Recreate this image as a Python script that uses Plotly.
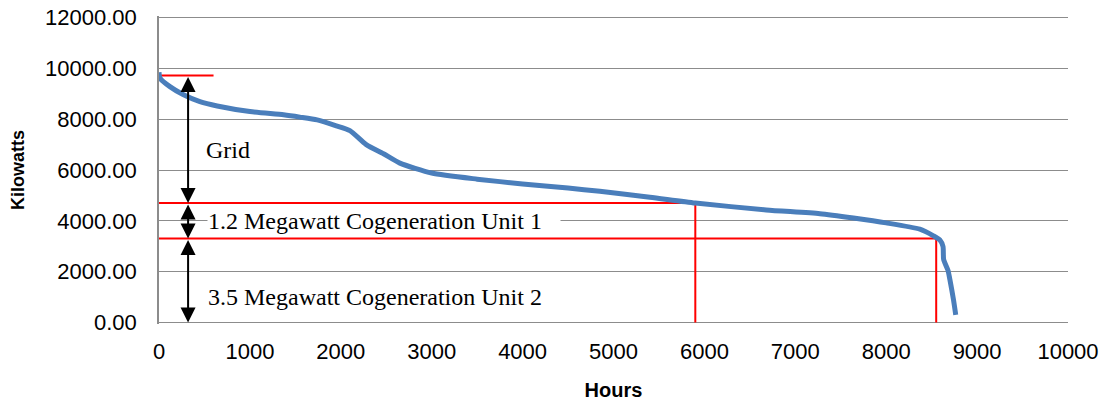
import plotly.graph_objects as go

# load duration curve (hours sorted by demand)
hours = [0, 10, 120, 270, 450, 640, 1000, 1370, 1550, 1740, 1950, 2100, 2280, 2470, 2650,
         3000, 3500, 4000, 4500, 4850, 5400, 5900, 6680, 7270, 7640, 8000, 8370, 8520,
         8590, 8625, 8632, 8680, 8700, 8740, 8765]
kw = [9850, 9620, 9280, 8960, 8690, 8520, 8300, 8170, 8080, 7970, 7740, 7550, 7000, 6640, 6270,
      5880, 5640, 5450, 5290, 5160, 4930, 4700, 4430, 4280, 4110, 3920, 3670, 3410,
      3250, 2990, 2480, 2050, 1700, 900, 300]

# red level lines: (level kW, hour where it meets the curve)
levels = [9720, 4700, 3300]
level_ends = [600, 5900, 8550]

arrow_x = 320
segments = [(9720, 4700), (4700, 3300), (3300, 0)]

labels = ["Grid", "1.2 Megawatt Cogeneration Unit 1", "3.5 Megawatt Cogeneration Unit 2"]
label_x = [506, 525, 525]
label_y = [6800, 3990, 1000]

fig = go.Figure()

for lv, he in zip(levels, level_ends):
    if lv == levels[0]:
        xs, ys = [0, he], [lv, lv]
    else:
        xs, ys = [0, he, he], [lv, lv, 0]
    fig.add_trace(go.Scatter(x=xs, y=ys, mode="lines", line=dict(color="#ff0000", width=2),
                             showlegend=False, hoverinfo="skip"))

fig.add_trace(go.Scatter(x=hours, y=kw, mode="lines", line=dict(color="#4a7ebb", width=5, shape="spline", smoothing=0.6),
                         showlegend=False))

for top, bot in segments:
    fig.add_annotation(x=arrow_x, y=bot, ax=arrow_x, ay=top, axref="x", ayref="y", xref="x", yref="y",
                       text="", showarrow=True, arrowhead=2, arrowside="end+start", arrowsize=1.5,
                       arrowwidth=2, arrowcolor="black", standoff=0, startstandoff=0)

for i, t in enumerate(labels):
    fig.add_annotation(x=label_x[i], y=label_y[i], text=t, showarrow=False, xanchor="left", yanchor="middle",
                       font=dict(family="Liberation Serif", size=24, color="black"),
                       bgcolor="white" if i == 1 else None, borderpad=0,
                       width=352 if i == 1 else None, align="left")

# y range padded a little so plotly keeps the 0 and 12000 gridlines
fig.update_layout(
    width=1107, height=402,
    margin=dict(l=159, r=39, t=15.5, b=77.5, autoexpand=False),
    plot_bgcolor="white", paper_bgcolor="white",
    font=dict(family="Liberation Sans", size=22, color="black"),
    xaxis=dict(range=[0, 10000], dtick=1000, tickformat="d", showgrid=False, showline=False,
               zeroline=False, ticks="", ticklabelstandoff=12, automargin=False,
               ticklabeloverflow="allow",
               title=dict(text="<b>Hours</b>", font=dict(size=20), standoff=19)),
    yaxis=dict(range=[-60, 12060], tick0=0, dtick=2000, tickformat=".2f", showgrid=True, gridcolor="#8c8c8c",
               gridwidth=1.4, showline=True, linecolor="#8c8c8c", linewidth=1.5, zeroline=False, ticks="",
               ticklabelstandoff=16, automargin=False, ticklabeloverflow="allow",
               title=dict(text="<b>Kilowatts</b>", font=dict(size=18), standoff=16)),
)

# drop the browser's default 8px body margin so the figure sits at the page corner
fig.write_html("out.html", config={"displayModeBar": False}, post_script="document.body.style.margin='0';")
